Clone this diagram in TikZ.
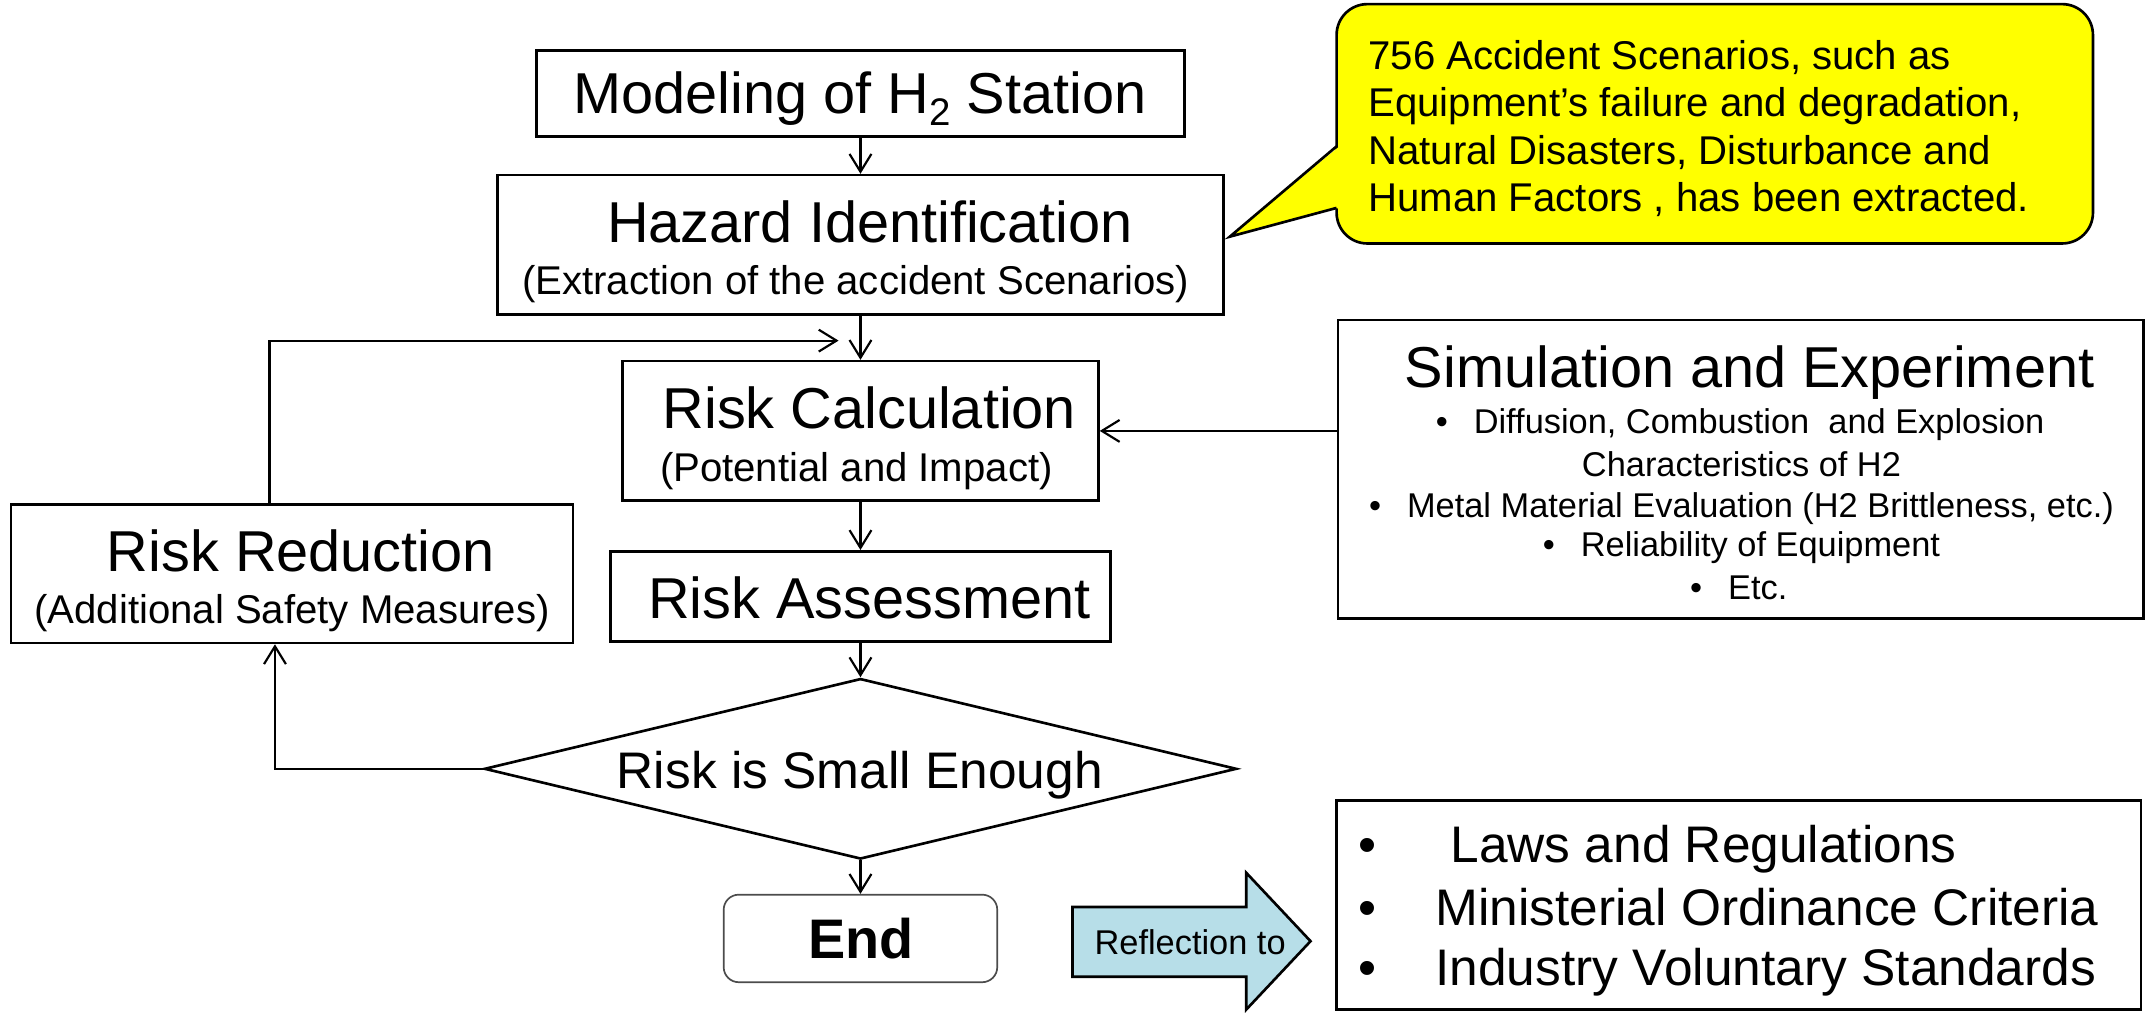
\documentclass[tikz,border=0pt]{standalone}
\usepackage{fontspec}
\setmainfont{Liberation Sans}
\usetikzlibrary{arrows.meta,shapes.geometric}
\definecolor{noteyellow}{RGB}{255,255,0}
\definecolor{arrowblue}{RGB}{183,222,232}
\begin{document}
\begin{tikzpicture}[x=0.02cm,y=-0.02cm,
  box/.style={draw, line width=1.1pt, inner sep=0pt, rectangle},
  arr/.style={line width=0.9pt, -{Straight Barb[length=2.6mm,width=3.2mm]}},
  ttl/.style={anchor=base, inner sep=0pt, font=\fontsize{24}{28}\selectfont},
  sub/.style={anchor=base, inner sep=0pt, font=\fontsize{16.7}{20}\selectfont},
  small/.style={anchor=base, inner sep=0pt, font=\fontsize{14.3}{17}\selectfont},
  mid/.style={anchor=base, inner sep=0pt, font=\fontsize{21.4}{25}\selectfont},
]
\useasboundingbox[fill=white] (0,0) rectangle (1568,743);

% boxes
\node[box, minimum width=9.48cm, minimum height=1.26cm] (model) at (629,68.5) {};
\node[box, minimum width=10.62cm, minimum height=2.04cm] (hazard) at (629,179) {};
\node[box, minimum width=6.96cm, minimum height=2.04cm] (calc) at (629,315) {};
\node[box, minimum width=7.32cm, minimum height=1.32cm] (assess) at (629,436) {};
\node[box, minimum width=8.22cm, minimum height=2.02cm] (reduce) at (213.5,419.5) {};
\node[draw, line width=1.1pt, shape=diamond, inner sep=0pt, minimum width=11cm, minimum height=2.64cm] (decide) at (629,562) {};
\node[draw=black!70, line width=0.7pt, rounded corners=0.22cm, minimum width=4cm, minimum height=1.28cm, inner sep=0pt] (end) at (629,686) {};
\node[box, minimum width=11.78cm, minimum height=4.36cm] (sim) at (1272.5,343) {};
\node[box, minimum width=11.76cm, minimum height=3.06cm] (regs) at (1271,661.5) {};

% callout
\coordinate (tip) at (899,173);
\node[draw, fill=noteyellow, line width=1.1pt, rounded corners=0.45cm, minimum width=11.06cm, minimum height=3.5cm, inner sep=0pt] (note) at (1253.5,90.5) {};
\fill[noteyellow] (979,107) -- (tip) -- (979,152) -- cycle;
\draw[line width=1.1pt, line join=miter] (977,107) -- (tip) -- (977,152);

% block arrow
\draw[line width=1.1pt, fill=arrowblue, line join=miter] (784,663) -- (911,663) -- (911,638) -- (958,688) -- (911,738) -- (911,714) -- (784,714) -- cycle;

% texts
\node[ttl] (modelt) at (628.5,83) {Modeling of H\raisebox{-5pt}{\fontsize{16}{16}\selectfont 2} Station};
\node[ttl] (hazardt) at (636,177) {Hazard Identification};
\node[sub] (hazards) at (625.5,215) {(Extraction of the accident Scenarios)};
\node[ttl] (calct) at (635.5,313) {Risk Calculation};
\node[sub] (calcs) at (626,352) {(Potential and Impact)};
\node[ttl] (assesst) at (635.5,452) {Risk Assessment};
\node[ttl] (reducet) at (220,418) {Risk Reduction};
\node[sub] (reduces) at (213.5,456) {(Additional Safety Measures)};
\node[mid] (decidet) at (628.5,576.5) {Risk is Small Enough};
\node[anchor=base, inner sep=0pt, font=\fontsize{23.2}{27}\selectfont\bfseries] (endt) at (629.5,700.5) {End};
\node[small] (reflt) at (870,698) {Reflection to};

\node[ttl] (simt) at (1279,283) {Simulation and Experiment};
\node[small] (sim1) at (1272,317) {•\hspace{0.38cm}Diffusion, Combustion\ \ and Explosion};
\node[small] (sim2) at (1273,348) {Characteristics of H2};
\node[small] (sim3) at (1273,378) {•\hspace{0.38cm}Metal Material Evaluation (H2 Brittleness, etc.)};
\node[small] (sim4) at (1273,407) {•\hspace{0.38cm}Reliability of Equipment};
\node[small] (sim5) at (1271,438) {•\hspace{0.38cm}Etc.};

\node[sub, anchor=base west] (note1) at (1000,51) {756 Accident Scenarios, such as};
\node[sub, anchor=base west] (note2) at (1000,85.5) {Equipment’s failure and degradation,};
\node[sub, anchor=base west] (note3) at (1000,120) {Natural Disasters, Disturbance and};
\node[sub, anchor=base west] (note4) at (1000,154.5) {Human Factors , has been extracted.};

\node[mid, anchor=base west] (regs1) at (993,630.5) {\makebox[1.12cm][l]{•}\hspace{0.22cm}Laws and Regulations};
\node[mid, anchor=base west] (regs2) at (993,676.5) {\makebox[1.12cm][l]{•}Ministerial Ordinance Criteria};
\node[mid, anchor=base west] (regs3) at (993,720.5) {\makebox[1.12cm][l]{•}Industry Voluntary Standards};

% connectors
\draw[arr] (model.south) -- (hazard.north);
\draw[arr] (hazard.south) -- (calc.north);
\draw[arr] (calc.south) -- (assess.north);
\draw[arr] (assess.south) -- (decide.north);
\draw[arr] (decide.south) -- (end.north);
\draw[arr] (sim.west |- calc.east) -- (calc.east);
\coordinate (fbtop) at (197,249);
\coordinate (fbend) at (613,249);
\draw[arr] (reduce.north -| fbtop) -- (fbtop) -- (fbend);
\coordinate (lb) at (201,562);
\draw[arr] (decide.west) -- (lb) -- (lb |- reduce.south);
\end{tikzpicture}
\end{document}
